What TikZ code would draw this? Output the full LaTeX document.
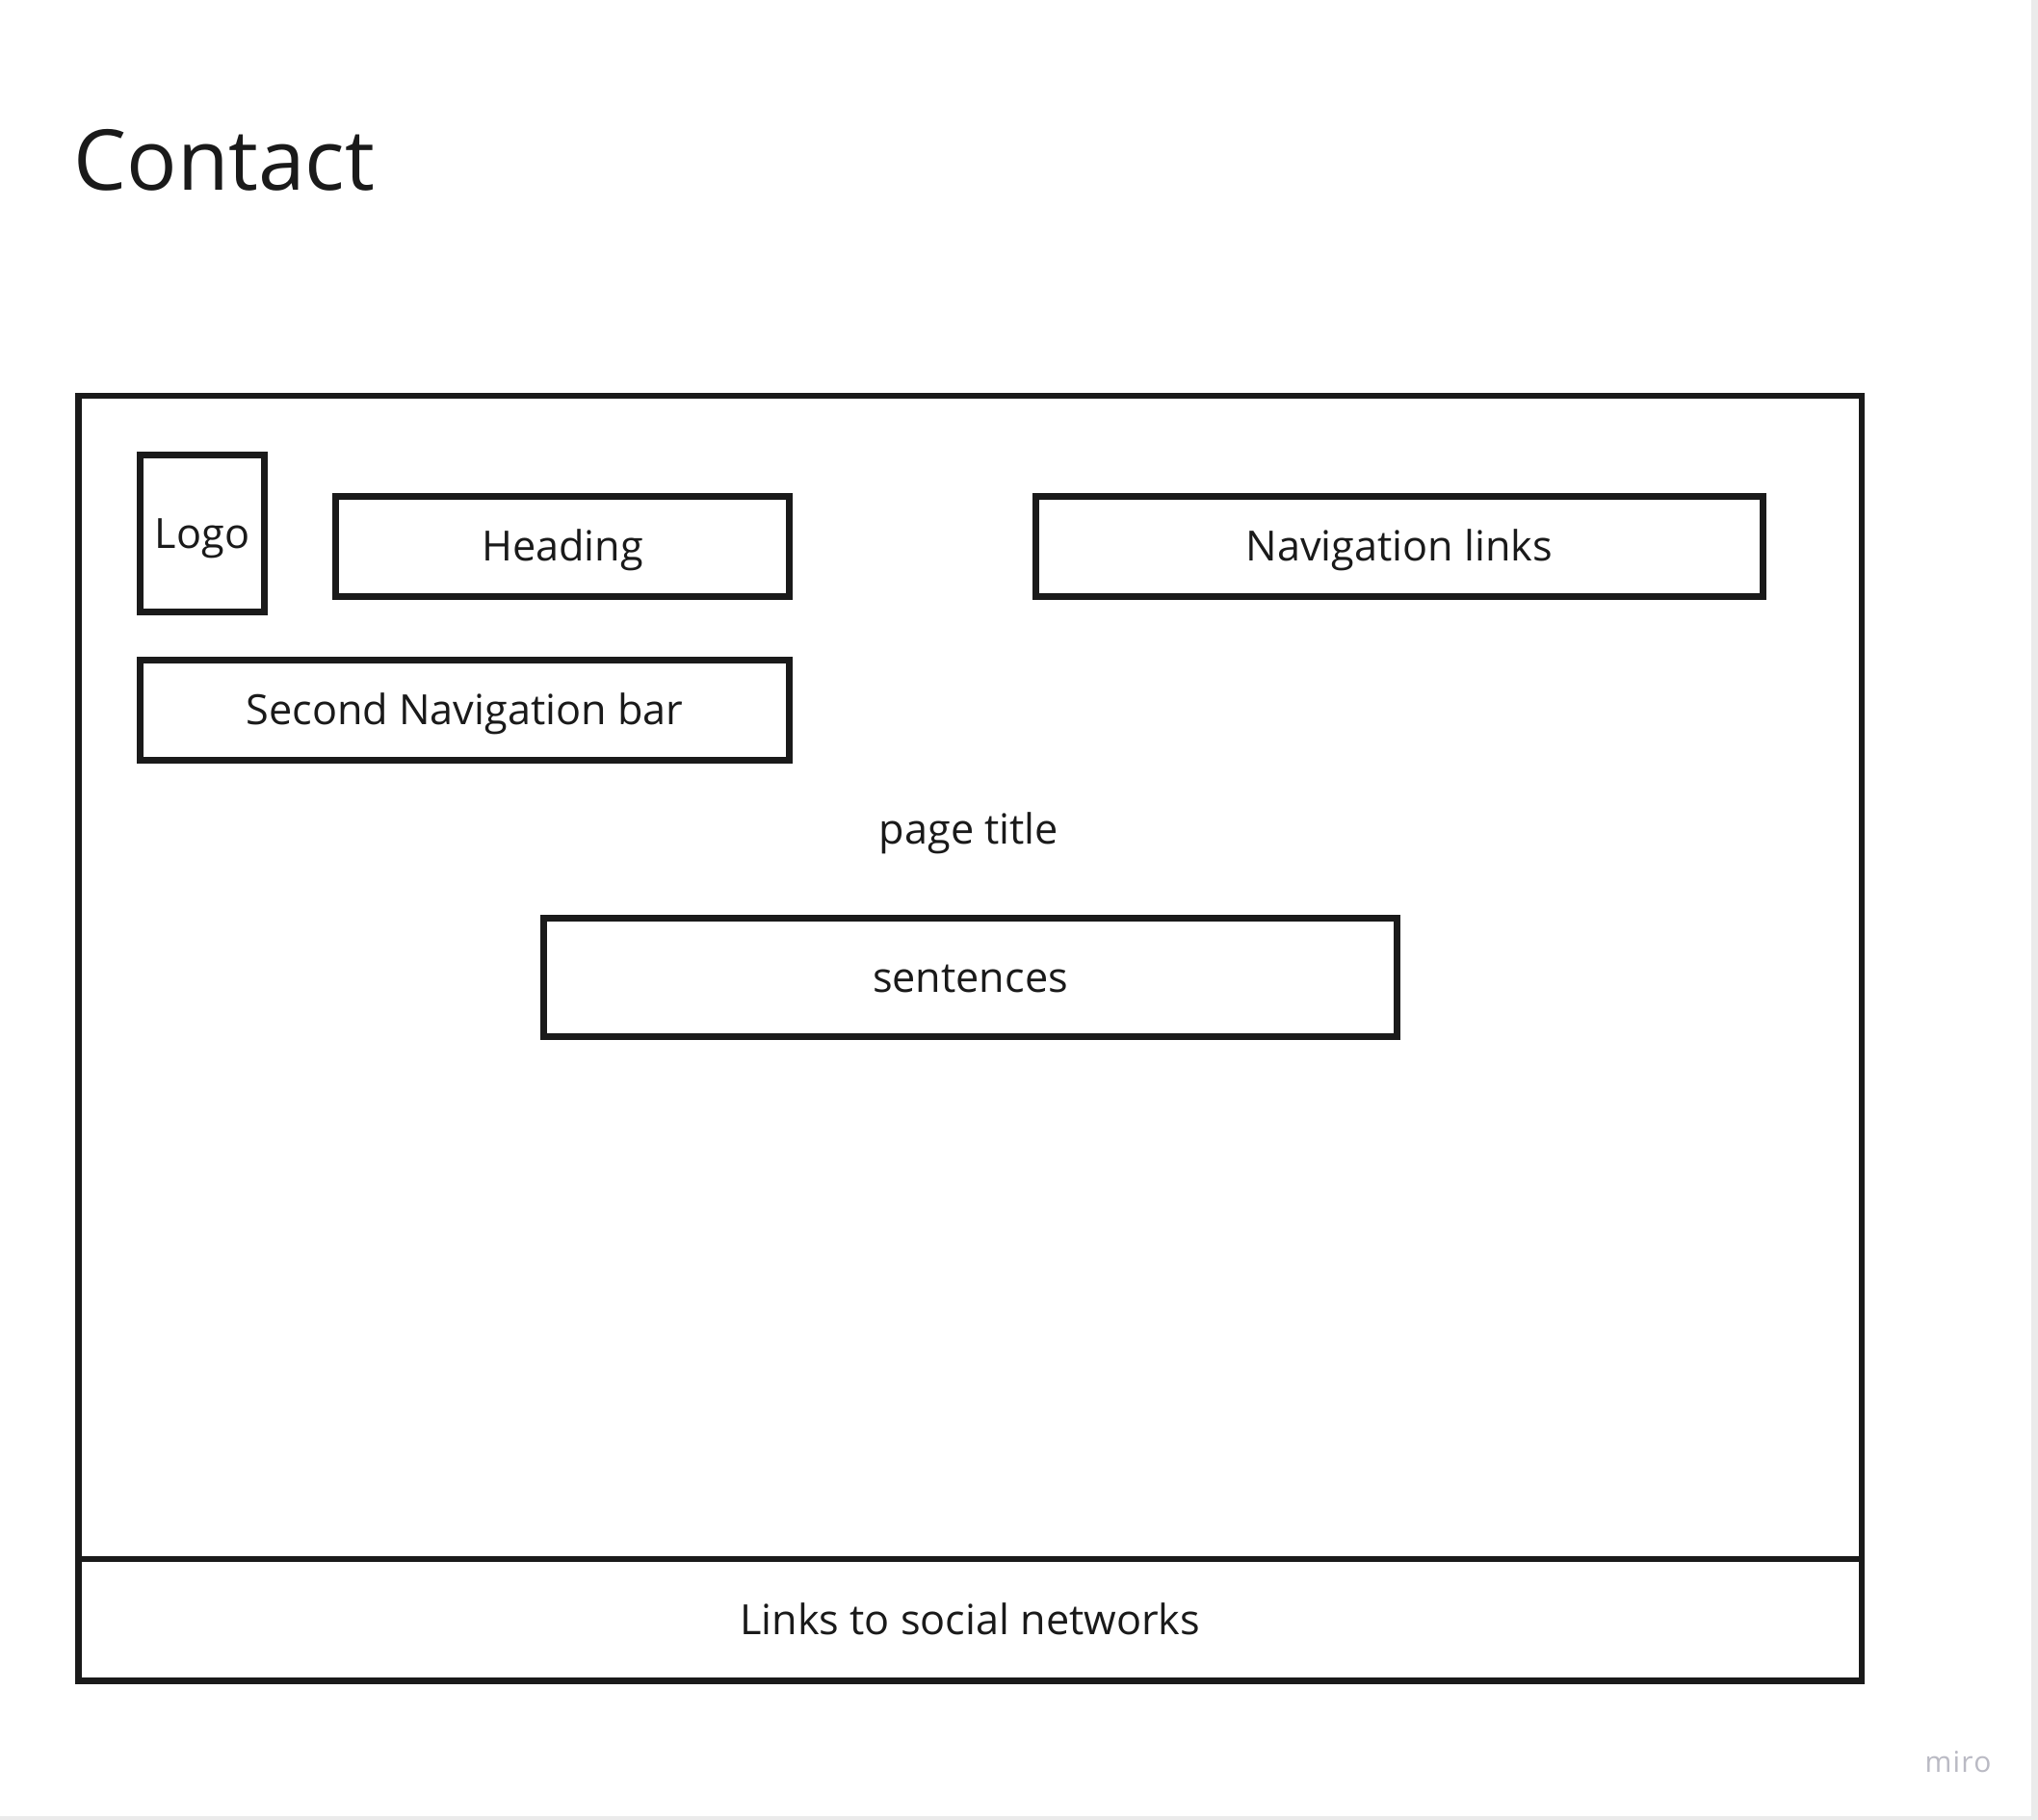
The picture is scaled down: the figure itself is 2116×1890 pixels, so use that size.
\documentclass[tikz,border=0pt]{standalone}
\usepackage{fontspec}
\setmainfont{Open Sans}
\definecolor{ink}{HTML}{1A1A1A}
\definecolor{edgegray}{HTML}{EBEBEB}
\definecolor{mirogray}{HTML}{BABAC4}
\begin{document}
\begin{tikzpicture}[x=0.5pt,y=-0.5pt,
  frame/.style={draw=ink, line width=3.1pt, inner sep=0pt, text=ink,
    font=\fontsize{21.6}{25}\selectfont, text height=15.4pt, text depth=0pt},
  label/.style={inner sep=0pt, text=ink,
    font=\fontsize{21.6}{25}\selectfont, text height=15.4pt, text depth=0pt}]
\useasboundingbox (0,0) rectangle (2116,1890);
\fill[white] (0,0) rectangle (2116,1890);
\fill[edgegray] (2109,0) rectangle (2116,1890);
\fill[edgegray] (0,1886) rectangle (2116,1890);

\node[anchor=base west, inner sep=0pt, text=ink, font=\fontsize{43.6}{50}\selectfont] (title) at (76,197) {Contact};

\node[frame, minimum width=925.75pt, minimum height=604pt] (page) at (1007.25,1015) {};
\node[frame, minimum width=925.75pt, minimum height=63.25pt] (footer) at (1007.25,1682.25) {Links to social networks};

\node[frame, minimum width=64.5pt, minimum height=81.5pt] (logo) at (210,554) {Logo};
\node[frame, minimum width=235.5pt, minimum height=52pt] (heading) at (584,567.5) {Heading};
\node[frame, minimum width=377.5pt, minimum height=52pt] (nav) at (1453,567.5) {Navigation links};
\node[frame, minimum width=337pt, minimum height=52pt] (secondnav) at (482.5,737.5) {Second Navigation bar};
\node[label] (pagetitle) at (1006,861) {page title};
\node[frame, minimum width=443pt, minimum height=61.5pt] (sentences) at (1007.5,1015) {sentences};

\node[anchor=base, inner sep=0pt, text=mirogray, font=\fontsize{15}{18}\selectfont\addfontfeatures{LetterSpace=4}] (miro) at (2033,1840) {miro};
\end{tikzpicture}
\end{document}
